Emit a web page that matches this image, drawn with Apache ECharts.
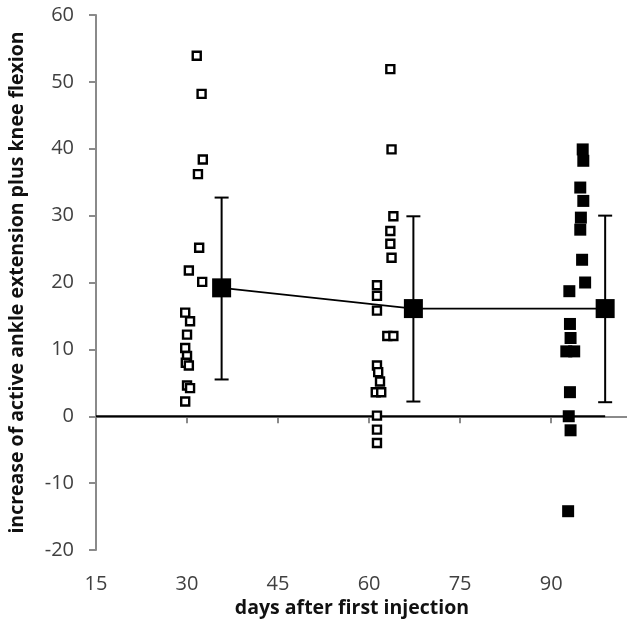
<!DOCTYPE html>
<html>
<head>
<meta charset="utf-8">
<script src="https://cdn.jsdelivr.net/npm/echarts@6/dist/echarts.min.js"></script>
<style>
html,body{margin:0;padding:0;background:#fff;}
#chart{width:627px;height:631px;}
</style>
</head>
<body>
<div id="chart"></div>
<script>
// day 30 group (open squares)
var day30X = [31.6, 32.4, 32.6, 31.8, 32.0, 30.3, 32.5, 29.7, 30.5, 30.0, 29.7, 30.0, 29.8, 30.3, 30.0, 30.5, 29.7];
var day30Y = [53.9, 48.2, 38.4, 36.2, 25.2, 21.8, 20.1, 15.5, 14.2, 12.2, 10.2, 9.0, 8.0, 7.6, 4.6, 4.2, 2.2];
// day 60 group (open squares)
var day60X = [63.5, 63.7, 64.0, 63.5, 63.5, 63.7, 61.3, 61.3, 61.3, 63.0, 64.0, 61.3, 61.5, 61.8, 61.1, 62.0, 61.3, 61.3, 61.3];
var day60Y = [51.9, 39.9, 29.9, 27.7, 25.8, 23.7, 19.6, 18.0, 15.8, 12.0, 12.0, 7.6, 6.6, 5.2, 3.6, 3.6, 0.1, -2.0, -4.0];
// day 90 group (filled squares)
var day90X = [95.2, 95.3, 94.8, 95.3, 94.9, 94.8, 95.1, 95.6, 93.0, 93.1, 93.2, 92.5, 93.8, 93.1, 92.9, 93.2, 92.8];
var day90Y = [39.9, 38.2, 34.2, 32.2, 29.7, 27.9, 23.4, 20.0, 18.7, 13.8, 11.7, 9.7, 9.7, 3.6, 0.0, -2.1, -14.2];
// means with error bars
var meanX = [35.7, 67.3, 98.9];
var meanY = [19.2, 16.1, 16.1];
var errLow = [5.5, 2.2, 2.1];
var errHigh = [32.7, 29.9, 30.0];
// zero reference line
var zeroX = [15, 98.9];

var xTicks = [15, 30, 45, 60, 75, 90];
var yTicks = [-20, -10, 0, 10, 20, 30, 40, 50, 60];

function pairs(xs, ys) {
    var out = [];
    for (var i = 0; i < xs.length; i++) out.push([xs[i], ys[i]]);
    return out;
}

var chart = echarts.init(document.getElementById('chart'));
var labelFont = 'Open Sans';
var option = {
    animation: false,
    grid: { left: 96, right: 0, top: 15, bottom: 81, containLabel: false, outerBoundsMode: 'none' },
    xAxis: {
        type: 'value',
        min: 15, max: 102.5, interval: 15,
        splitLine: { show: false },
        axisLine: { lineStyle: { color: '#8a8a8a', width: 2 } },
        axisTick: { length: 7, lineStyle: { color: '#8a8a8a', width: 2 } },
        axisLabel: {
            margin: 24, fontFamily: labelFont, fontSize: 20, color: '#404040',
            showMaxLabel: false,
            formatter: function (v) { return xTicks.indexOf(v) >= 0 ? v : ''; }
        }
    },
    yAxis: {
        type: 'value',
        min: -20, max: 60, interval: 10,
        name: 'increase of active ankle extension plus knee flexion',
        nameLocation: 'middle',
        nameGap: 69,
        nameTextStyle: { fontFamily: labelFont, fontWeight: 'bold', fontSize: 19.5, color: '#111' },
        splitLine: { show: false },
        axisLine: { lineStyle: { color: '#8a8a8a', width: 2 } },
        axisTick: { length: 7, lineStyle: { color: '#8a8a8a', width: 2 } },
        axisLabel: {
            margin: 22, fontFamily: labelFont, fontSize: 20, color: '#404040',
            formatter: function (v) { return yTicks.indexOf(v) >= 0 ? v : ''; }
        }
    },
    graphic: [{
        type: 'text',
        x: 352, y: 608,
        style: {
            text: 'days after first injection',
            font: 'bold 19.5px "Open Sans"',
            fill: '#111',
            textAlign: 'center',
            textVerticalAlign: 'middle'
        }
    }],
    series: [
        {
            type: 'line',
            data: pairs(zeroX, [0, 0]),
            symbol: 'none',
            lineStyle: { color: '#000', width: 2 },
            z: 1
        },
        {
            type: 'line',
            data: pairs(meanX, meanY),
            symbol: 'none',
            lineStyle: { color: '#000', width: 1.6 },
            z: 1
        },
        {
            type: 'custom',
            data: meanX.map(function (x, i) { return [x, errLow[i], errHigh[i]]; }),
            renderItem: function (params, api) {
                var top = api.coord([api.value(0), api.value(2)]);
                var bot = api.coord([api.value(0), api.value(1)]);
                var w = 7;
                var st = { stroke: '#000', lineWidth: 2 };
                return {
                    type: 'group',
                    children: [
                        { type: 'line', shape: { x1: top[0], y1: top[1], x2: bot[0], y2: bot[1] }, style: st },
                        { type: 'line', shape: { x1: top[0] - w, y1: top[1], x2: top[0] + w, y2: top[1] }, style: st },
                        { type: 'line', shape: { x1: bot[0] - w, y1: bot[1], x2: bot[0] + w, y2: bot[1] }, style: st }
                    ]
                };
            },
            z: 2
        },
        {
            type: 'scatter',
            data: pairs(day30X, day30Y),
            symbol: 'rect',
            symbolSize: 8,
            itemStyle: { color: '#fff', borderColor: '#000', borderWidth: 2.4, opacity: 1 },
            z: 3
        },
        {
            type: 'scatter',
            data: pairs(day60X, day60Y),
            symbol: 'rect',
            symbolSize: 8,
            itemStyle: { color: '#fff', borderColor: '#000', borderWidth: 2.4, opacity: 1 },
            z: 3
        },
        {
            type: 'scatter',
            data: pairs(day90X, day90Y),
            symbol: 'rect',
            symbolSize: 12,
            itemStyle: { color: '#000', opacity: 1 },
            z: 3
        },
        {
            type: 'scatter',
            data: pairs(meanX, meanY),
            symbol: 'rect',
            symbolSize: 19,
            itemStyle: { color: '#000', opacity: 1 },
            z: 4
        }
    ]
};
chart.setOption(option);
</script>
</body>
</html>
